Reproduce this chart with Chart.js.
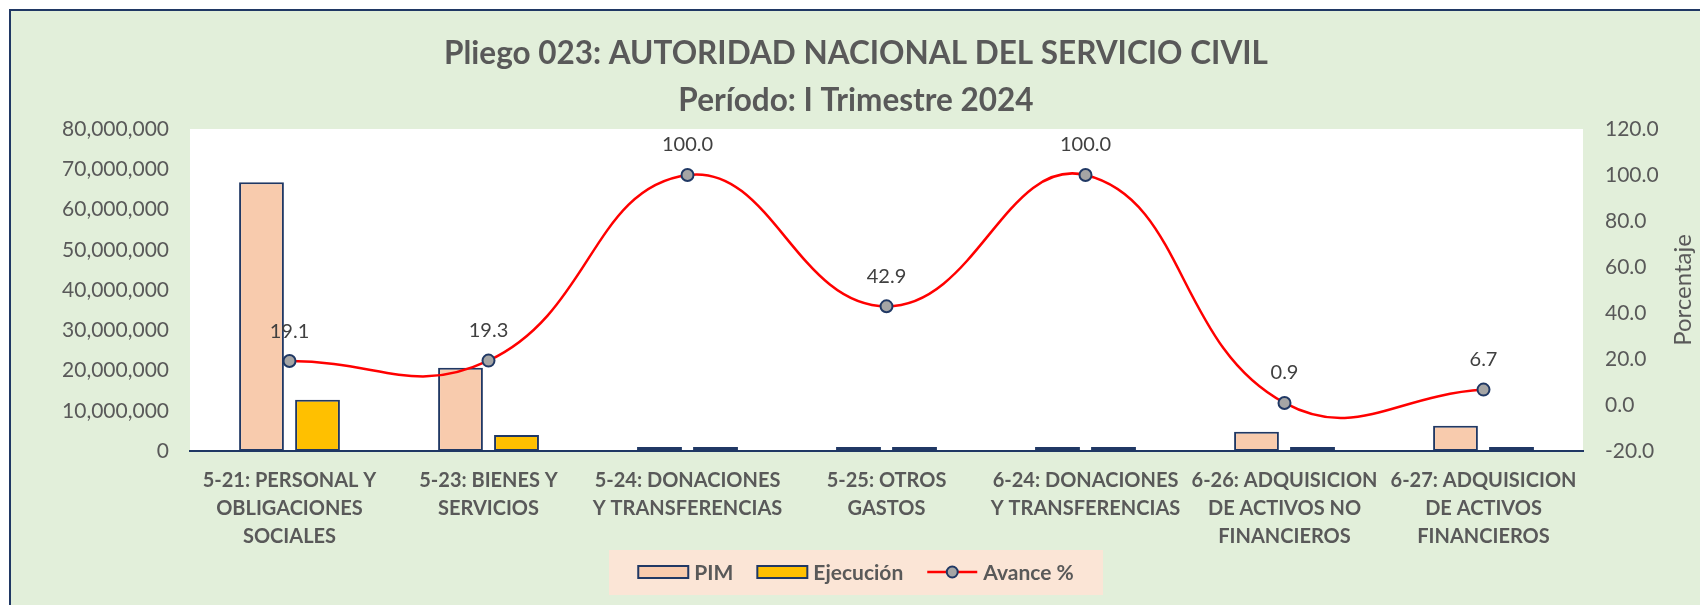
<!DOCTYPE html>
<html>
<head>
<meta charset="utf-8">
<script src="https://cdn.jsdelivr.net/npm/chart.js@4/dist/chart.umd.min.js"></script>
<style>
	html, body { margin: 0; padding: 0; background: #fff; }
	#wrap { width: 1700px; height: 605px; }
</style>
</head>
<body>
<div id="wrap"><canvas id="chart"></canvas></div>
<script>
const categories = [
	['5-21: PERSONAL Y', 'OBLIGACIONES', 'SOCIALES'],
	['5-23: BIENES Y', 'SERVICIOS'],
	['5-24: DONACIONES', 'Y TRANSFERENCIAS'],
	['5-25: OTROS', 'GASTOS'],
	['6-24: DONACIONES', 'Y TRANSFERENCIAS'],
	['6-26: ADQUISICION', 'DE ACTIVOS NO', 'FINANCIEROS'],
	['6-27: ADQUISICION', 'DE ACTIVOS', 'FINANCIEROS']
];
const pim = [66800000, 20700000, 150000, 70000, 100000, 4800000, 6300000];
const ejecucion = [12760000, 4000000, 150000, 30000, 100000, 43000, 420000];
const avance = [19.1, 19.3, 100.0, 42.9, 100.0, 0.9, 6.7];

const titleLines = ['Pliego 023: AUTORIDAD NACIONAL DEL SERVICIO CIVIL', 'Período: I Trimestre 2024'];
const rightAxisTitle = 'Porcentaje';

const FONT = 'Lato';
const GREY = '#595959';
const NAVY = '#203864';

// background, chart frame and white plot area
const backdrop = {
	id: 'backdrop',
	beforeDraw(chart) {
		const ctx = chart.ctx;
		const {left, top, right, bottom} = chart.chartArea;
		ctx.save();
		ctx.fillStyle = '#ffffff';
		ctx.fillRect(0, 0, chart.width, chart.height);
		ctx.fillStyle = '#e2efda';
		ctx.fillRect(10, 10, chart.width - 10, chart.height - 10);
		ctx.strokeStyle = NAVY;
		ctx.lineWidth = 2;
		ctx.beginPath();
		ctx.moveTo(10, chart.height);
		ctx.lineTo(10, 10);
		ctx.lineTo(chart.width, 10);
		ctx.stroke();
		ctx.fillStyle = '#ffffff';
		ctx.fillRect(left, top, right - left, bottom - top);
		ctx.restore();
	}
};

// value labels above the line points + rotated right axis title
const extras = {
	id: 'extras',
	afterDatasetsDraw(chart) {
		const ctx = chart.ctx;
		ctx.save();
		ctx.font = `20px ${FONT}`;
		ctx.fillStyle = '#404040';
		ctx.textAlign = 'center';
		ctx.textBaseline = 'middle';
		chart.data.datasets.forEach((ds, i) => {
			if (ds.type !== 'line') return;
			chart.getDatasetMeta(i).data.forEach((pt, j) => {
				ctx.fillText(ds.data[j].toFixed(1), pt.x, pt.y - 30);
			});
		});
		const y1 = chart.scales.y1;
		ctx.font = `24px ${FONT}`;
		ctx.fillStyle = GREY;
		ctx.translate(y1.right - 17, (y1.top + y1.bottom) / 2);
		ctx.rotate(-Math.PI / 2);
		ctx.fillText(rightAxisTitle, 0, 0);
		ctx.restore();
	}
};

// legend in a peach box under the axis labels
const boxLegend = {
	id: 'boxLegend',
	afterDraw(chart) {
		const ctx = chart.ctx;
		const sw = 50, gap = 6, spacing = 24;
		ctx.save();
		ctx.font = `bold 21px ${FONT}`;
		const items = chart.data.datasets.map(ds => ({ds, w: ctx.measureText(ds.label).width}));
		const total = items.reduce((s, it) => s + sw + gap + it.w, 0) + spacing * (items.length - 1);
		const cx = 856, cy = 572;
		ctx.fillStyle = '#fbe5d6';
		ctx.fillRect(cx - 247, cy - 22, 494, 45);
		let x = cx - total / 2;
		items.forEach(({ds, w}) => {
			if (ds.type === 'line') {
				ctx.strokeStyle = ds.borderColor;
				ctx.lineWidth = 2.5;
				ctx.beginPath();
				ctx.moveTo(x, cy);
				ctx.lineTo(x + sw, cy);
				ctx.stroke();
				ctx.fillStyle = ds.pointBackgroundColor;
				ctx.strokeStyle = ds.pointBorderColor;
				ctx.lineWidth = 2;
				ctx.beginPath();
				ctx.arc(x + sw / 2, cy, 5.5, 0, Math.PI * 2);
				ctx.fill();
				ctx.stroke();
			} else {
				ctx.fillStyle = ds.backgroundColor;
				ctx.fillRect(x, cy - 6, sw, 12);
				ctx.strokeStyle = ds.borderColor;
				ctx.lineWidth = 2;
				ctx.strokeRect(x, cy - 6, sw, 12);
			}
			ctx.fillStyle = GREY;
			ctx.textAlign = 'left';
			ctx.textBaseline = 'middle';
			ctx.fillText(ds.label, x + sw + gap, cy + 1);
			x += sw + gap + w + spacing;
		});
		ctx.restore();
	}
};

new Chart(document.getElementById('chart'), {
	type: 'bar',
	data: {
		labels: categories,
		datasets: [
			{
				label: 'PIM',
				data: pim,
				backgroundColor: '#f8cbad',
				borderColor: NAVY,
				borderWidth: 2,
				borderSkipped: false,
				minBarLength: 4,
				yAxisID: 'y',
				order: 1
			},
			{
				label: 'Ejecución',
				data: ejecucion,
				backgroundColor: '#ffc000',
				borderColor: NAVY,
				borderWidth: 2,
				borderSkipped: false,
				minBarLength: 4,
				yAxisID: 'y',
				order: 1
			},
			{
				label: 'Avance %',
				type: 'line',
				data: avance,
				yAxisID: 'y1',
				borderColor: '#ff0000',
				borderWidth: 2.5,
				tension: 0.45,
				pointRadius: 6,
				pointBackgroundColor: '#a5a5a5',
				pointBorderColor: NAVY,
				pointBorderWidth: 2,
				clip: false,
				order: 0
			}
		]
	},
	options: {
		responsive: true,
		maintainAspectRatio: false,
		animation: false,
		categoryPercentage: 0.563,
		barPercentage: 0.8,
		layout: { padding: { left: 12, top: 10, right: 0, bottom: 0 } },
		plugins: {
			legend: { display: false },
			tooltip: { enabled: false },
			title: {
				display: true,
				text: titleLines,
				color: GREY,
				font: { family: FONT, size: 31.5, weight: 'bold', lineHeight: 47 / 31.5 },
				padding: { top: 20, bottom: 5 }
			}
		},
		scales: {
			x: {
				grid: { display: false, drawTicks: false, tickLength: 0 },
				border: { display: true, color: NAVY, width: 2 },
				ticks: {
					color: GREY,
					font: { family: FONT, size: 20, weight: 'bold', lineHeight: 1.4 },
					padding: 16,
					maxRotation: 0,
					autoSkip: false
				},
				afterFit(scale) { scale.height = 154; }
			},
			y: {
				position: 'left',
				min: 0,
				max: 80000000,
				grid: { display: false, drawTicks: false, tickLength: 0 },
				border: { display: false },
				ticks: {
					stepSize: 10000000,
					color: GREY,
					font: { family: FONT, size: 21 },
					padding: 21,
					callback: v => v.toLocaleString('en-US')
				},
				afterFit(scale) { scale.width = 178; }
			},
			y1: {
				position: 'right',
				min: -20,
				max: 120,
				grid: { display: false, drawTicks: false, tickLength: 0 },
				border: { display: false },
				ticks: {
					stepSize: 20,
					color: GREY,
					font: { family: FONT, size: 21 },
					padding: 22,
					callback: v => v.toFixed(1)
				},
				afterFit(scale) { scale.width = 117; }
			}
		}
	},
	plugins: [backdrop, extras, boxLegend]
});
</script>
</body>
</html>
